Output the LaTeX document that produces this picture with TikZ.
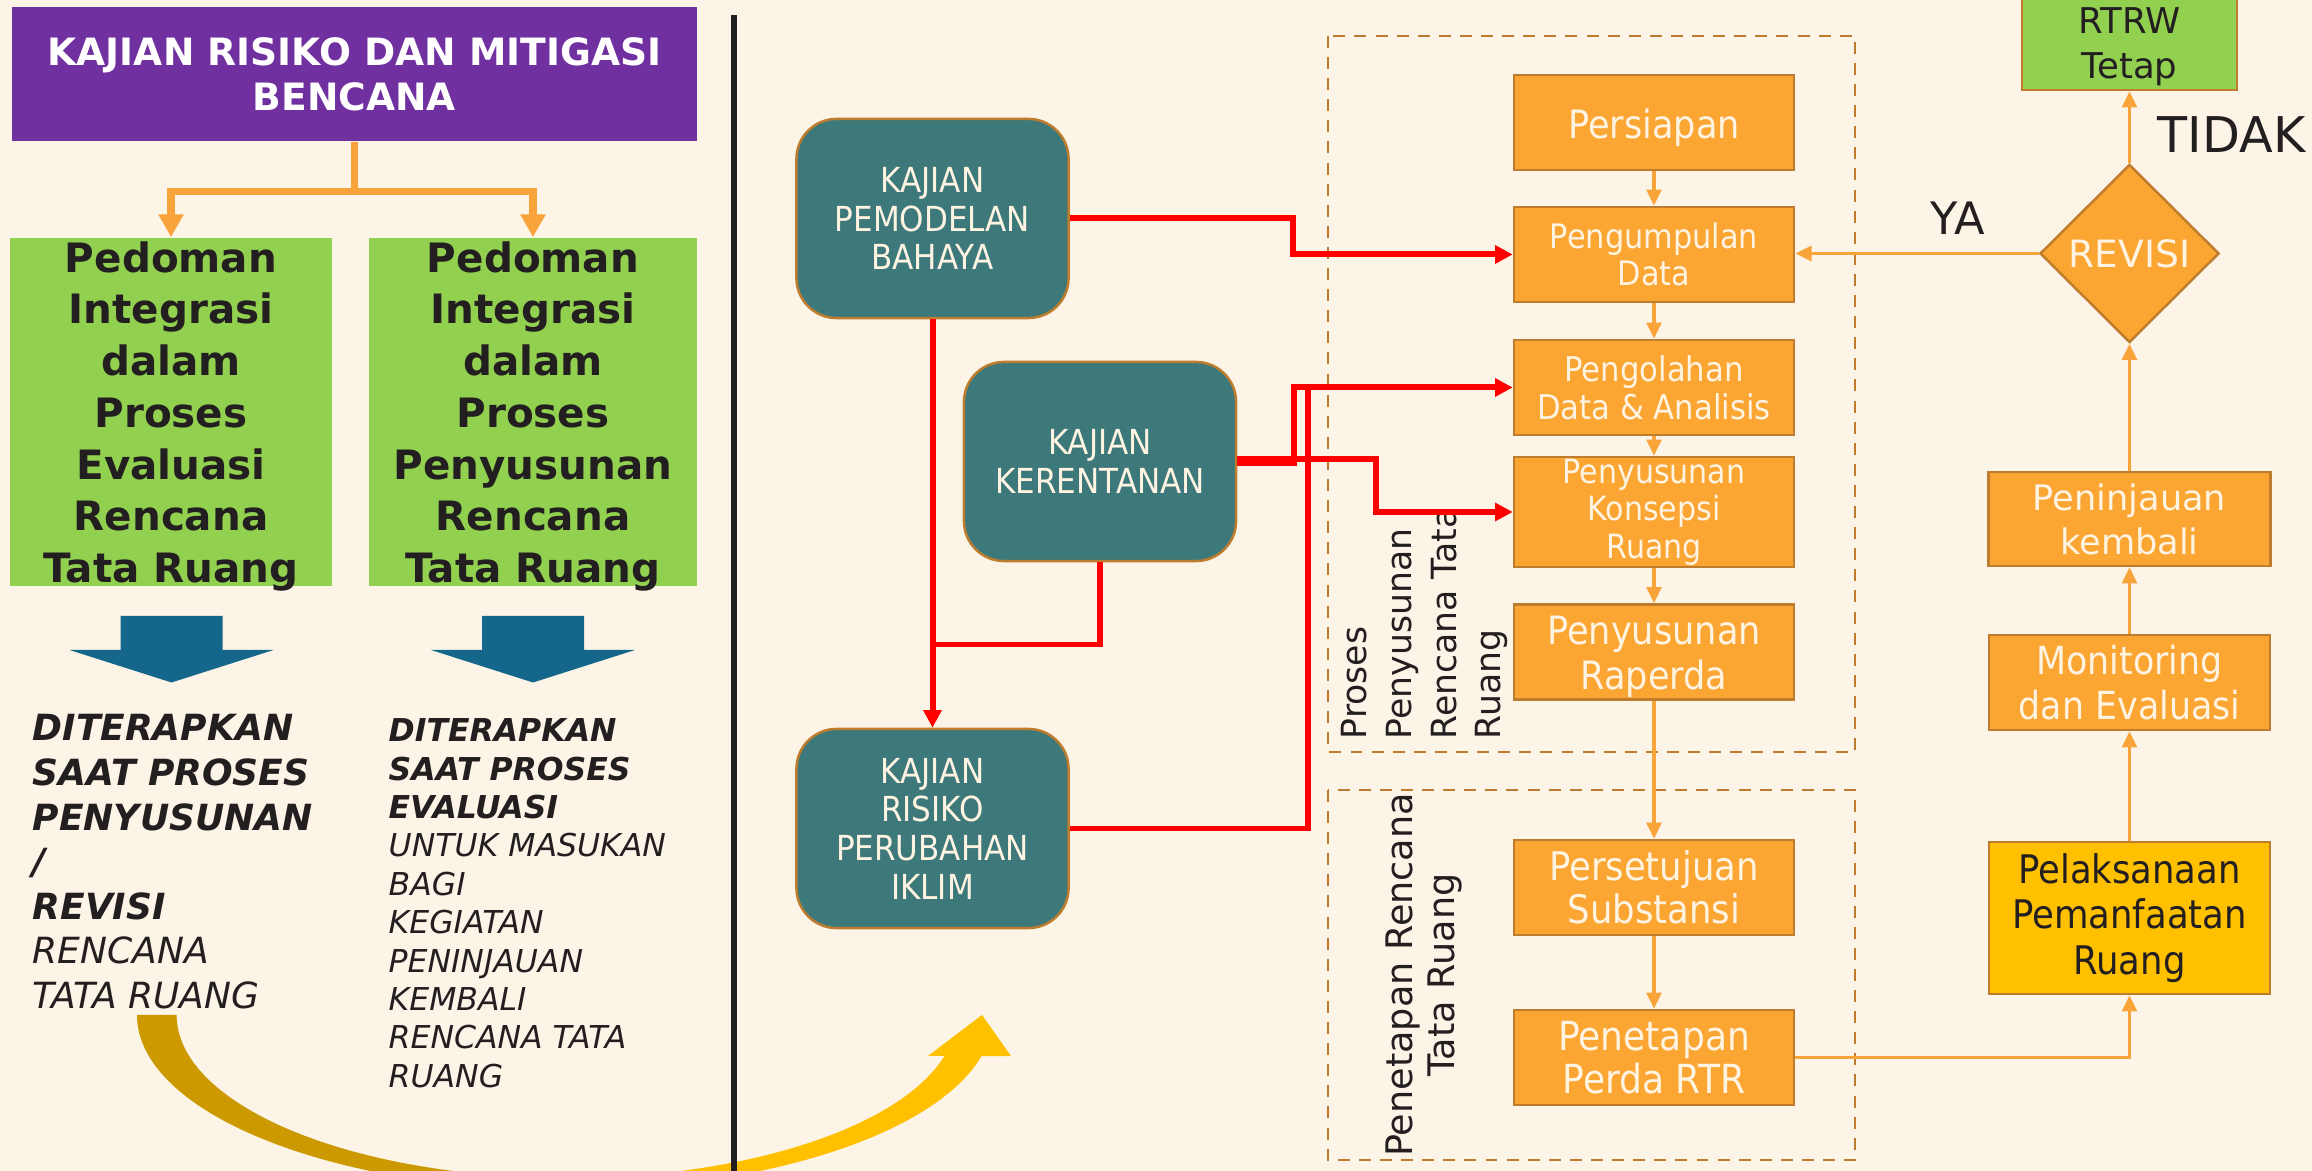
\documentclass[tikz,border=0pt]{standalone}
\usepackage{fontspec}
\setmainfont{DejaVu Sans}
\newfontfamily\tahoma{DejaVu Sans}[FakeStretch=0.9]
\usetikzlibrary{arrows.meta,shapes.geometric}

\definecolor{bgkrem}{HTML}{FCF4E6}
\definecolor{ungu}{HTML}{7030A0}
\definecolor{hijau}{HTML}{92D050}
\definecolor{tealbox}{HTML}{3D797B}
\definecolor{oranye}{HTML}{FBA533}
\definecolor{oranyeline}{HTML}{F9A43A}
\definecolor{coklat}{HTML}{BE7D2E}
\definecolor{kuning}{HTML}{FFC000}
\definecolor{emas}{HTML}{CC9900}
\definecolor{biru}{HTML}{14678A}
\definecolor{gelap}{HTML}{231F20}
\definecolor{krem}{HTML}{FFF3E2}

% taller first line, pushes the text block down a little
\newcommand{\strutatas}[1]{\rule{0pt}{#1}}
% last line without depth, same effect inside fixed boxes
\newcommand{\tanpadalam}[1]{\raisebox{0pt}[\height][0pt]{#1}}

% curved arrow below the two guides
\newcommand{\panahlengkung}{(137,-1015) arc[start angle=180, end angle=346.45, x radius=4.28cm, y radius=1.75cm]
  -- (1011,-1056) -- (982,-1015) -- (928,-1056) -- (944.5,-1056)
  arc[start angle=345.43, end angle=180, x radius=3.9cm, y radius=1.63cm] -- cycle}

\tikzset{
  kotakproses/.style={draw=coklat, line width=0.7pt, fill=oranye, text=krem, inner sep=0pt, align=center,
    minimum width=2.8cm, minimum height=0.95cm},
  kotakkajian/.style={draw=coklat, line width=0.7pt, fill=tealbox, text=krem, rounded corners=0.4cm, inner sep=0pt,
    align=center, minimum width=2.72cm, minimum height=1.99cm, font=\tahoma\fontsize{9.8}{11}\selectfont},
  kotakpedoman/.style={fill=hijau, text=gelap, inner sep=0pt, align=center, minimum height=3.48cm,
    font=\bfseries\fontsize{11.5}{14.7}\selectfont},
  garisoranye/.style={draw=oranyeline, line width=0.95pt, -{Triangle[length=4.6pt,width=4.2pt]}},
  garistebal/.style={draw=oranyeline, line width=2.1pt, -{Triangle[length=6.5pt,width=6.8pt]}},
  garismerah/.style={draw=red, line width=1.7pt},
  panahmerah/.style={garismerah, -{Triangle[length=5pt,width=5pt]}},
  kotakputus/.style={draw=coklat, line width=0.75pt, dash pattern=on 3.4pt off 2.6pt},
  teksgelap/.style={text=gelap, inner sep=0pt}
}

\begin{document}
\begin{tikzpicture}[x=0.01cm, y=0.01cm]
\useasboundingbox (0,0) rectangle (2312,-1171);
\clip (0,0) rectangle (2312,-1171);
\fill[bgkrem] (0,0) rectangle (2312,-1171);

% left half
\node[fill=ungu, text=white, inner sep=0pt, align=center, minimum width=6.85cm, minimum height=1.34cm,
  font=\bfseries\fontsize{10.7}{12.8}\selectfont] (judul) at (354.5,-74) {KAJIAN RISIKO DAN MITIGASI\\BENCANA};
\node[kotakpedoman, minimum width=3.22cm] (pedEval) at (171,-412)
  {Pedoman\\Integrasi\\dalam\\Proses\\Evaluasi\\Rencana\\\tanpadalam{Tata Ruang}};
\node[kotakpedoman, minimum width=3.28cm] (pedSusun) at (533,-412)
  {Pedoman\\Integrasi\\dalam\\Proses\\Penyusunan\\Rencana\\\tanpadalam{Tata Ruang}};
\draw[garistebal] (judul.south) -- ++(0,-50) -| (pedEval.north);
\draw[garistebal] (judul.south) -- ++(0,-50) -| (pedSusun.north);

\foreach \cx in {171.5,533}
  \fill[biru] (\cx-51,-616) -- (\cx+51,-616) -- (\cx+51,-650) -- (\cx+102,-650) -- (\cx,-682.5)
    -- (\cx-102,-650) -- (\cx-51,-650) -- cycle;

\node[teksgelap, anchor=north west, align=left, font=\itshape\fontsize{10.25}{12.66}\selectfont] (tekskiri) at (32,-714)
  {\textbf{DITERAPKAN}\\\textbf{SAAT PROSES}\\\textbf{PENYUSUNAN}\\\textbf{/}\\\textbf{REVISI}\\RENCANA\\TATA RUANG};
\node[teksgelap, anchor=north west, align=left, font=\itshape\fontsize{8.96}{10.92}\selectfont] (tekskanan) at (388,-718)
  {\textbf{DITERAPKAN}\\\textbf{SAAT PROSES}\\\textbf{EVALUASI}\\UNTUK MASUKAN\\BAGI\\KEGIATAN\\PENINJAUAN\\KEMBALI\\RENCANA TATA\\RUANG};

\begin{scope}
  \clip (0,-900) rectangle (565,-1171);
  \fill[emas] \panahlengkung;
\end{scope}
\begin{scope}
  \clip (565,-900) rectangle (1100,-1171);
  \fill[kuning] \panahlengkung;
\end{scope}

\draw[gelap, line width=1.7pt] (734,-15) -- (734,-1171);

% kajian boxes
\node[kotakkajian] (bahaya) at (932.5,-218.5) {KAJIAN\\PEMODELAN\\BAHAYA};
\node[kotakkajian] (kerentanan) at (1100,-461.5) {KAJIAN\\KERENTANAN};
\node[kotakkajian] (iklim) at (932.5,-828.5) {KAJIAN\\RISIKO\\PERUBAHAN\\IKLIM};

% process groups
\draw[kotakputus] (1328,-36) rectangle (1855,-752);
\draw[kotakputus] (1328,-790) rectangle (1855,-1160);
\node[teksgelap, rotate=90, anchor=north west, align=left, font=\fontsize{9.85}{12.7}\selectfont] (lblProses) at (1341,-740)
  {Proses\\Penyusunan\\Rencana Tata\\Ruang};
\node[teksgelap, rotate=90, anchor=north, align=center, font=\fontsize{10.4}{12}\selectfont] (lblPenetapan) at (1385,-975)
  {Penetapan Rencana\\Tata Ruang};

\node[kotakproses, font=\tahoma\fontsize{11.1}{12.8}\selectfont] (persiapan) at (1654,-122.5) {\strutatas{0.41cm}Persiapan};
\node[kotakproses, font=\tahoma\fontsize{9.6}{10.5}\selectfont] (pengumpulan) at (1654,-254.5) {Pengumpulan\\Data};
\node[kotakproses, font=\tahoma\fontsize{9.7}{10.8}\selectfont] (pengolahan) at (1654,-387.5) {Pengolahan\\Data \& Analisis};
\node[kotakproses, minimum height=1.1cm, font=\tahoma\fontsize{9.5}{10.7}\selectfont] (konsepsi) at (1654,-512) {Penyusunan\\Konsepsi\\Ruang};
\node[kotakproses, font=\tahoma\fontsize{11.1}{12.8}\selectfont] (raperda) at (1654,-652) {\strutatas{0.38cm}Penyusunan\\Raperda};
\node[kotakproses, font=\tahoma\fontsize{11.2}{12.4}\selectfont] (persetujuan) at (1654,-887.5) {Persetujuan\\Substansi};
\node[kotakproses, font=\tahoma\fontsize{11.4}{12.4}\selectfont] (penetapan) at (1654,-1057.5) {Penetapan\\Perda RTR};

% right column
\node[kotakproses, minimum width=2.81cm, font=\tahoma\fontsize{11}{12.9}\selectfont] (monitoring) at (2129.5,-682.5) {Monitoring\\dan Evaluasi};
\node[kotakproses, fill=kuning, text=gelap, minimum width=2.81cm, minimum height=1.52cm,
  font=\tahoma\fontsize{11.2}{12.9}\selectfont] (pelaksanaan) at (2129.5,-918) {Pelaksanaan\\Pemanfaatan\\Ruang};
\node[kotakproses, minimum width=2.82cm, minimum height=0.94cm, font=\fontsize{10}{12.5}\selectfont] (peninjauan) at (2129.5,-519) {Peninjauan\\kembali};
\node[diamond, draw=coklat, line width=0.7pt, fill=oranye, text=krem, inner sep=0pt, minimum width=1.79cm, minimum height=1.78cm,
  font=\fontsize{10.7}{12}\selectfont] (revisi) at (2129.5,-253.5) {REVISI};
\node[kotakproses, fill=hijau, text=gelap, minimum width=2.15cm, font=\fontsize{10.1}{12.7}\selectfont] (rtrw) at (2129.5,-42.5) {\strutatas{0.34cm}RTRW\\Tetap};
\node[teksgelap, anchor=base west, font=\fontsize{14}{16}\selectfont] (tidak) at (2157,-153) {TIDAK};
\node[teksgelap, anchor=base west, font=\fontsize{12.7}{15}\selectfont] (ya) at (1930,-235) {YA};

% red links
\draw[panahmerah] (bahaya.east) -- ++(223.5,0) |- (pengumpulan.west);
\draw[panahmerah] (bahaya.south) -- (bahaya.south |- iklim.north);
\coordinate (simpul1) at (932.5,-644.5);
\draw[garismerah] (kerentanan.south) |- (simpul1);
\draw[panahmerah] ([yshift=-0.02cm]kerentanan.east) -- ++(57,0) |- (pengolahan.west);
\draw[panahmerah] ([yshift=0.02cm]kerentanan.east) -- ++(139,0) |- (konsepsi.west);
\coordinate (simpul2) at (1308,-387.5);
\draw[garismerah] (iklim.east) -| (simpul2);

% orange links
\draw[garisoranye] (persiapan) -- (pengumpulan);
\draw[garisoranye] (pengumpulan) -- (pengolahan);
\draw[garisoranye] (pengolahan) -- (konsepsi);
\draw[garisoranye] (konsepsi) -- (raperda);
\draw[garisoranye] (raperda) -- (persetujuan);
\draw[garisoranye] (persetujuan) -- (penetapan);
\draw[garisoranye] (penetapan.east) -| (pelaksanaan.south);
\draw[garisoranye] (pelaksanaan) -- (monitoring);
\draw[garisoranye] (monitoring) -- (peninjauan);
\draw[garisoranye] (peninjauan) -- (revisi);
\draw[garisoranye] (revisi) -- (rtrw);
\draw[garisoranye] (revisi.west) -- (revisi.west -| pengumpulan.east);
\end{tikzpicture}
\end{document}
